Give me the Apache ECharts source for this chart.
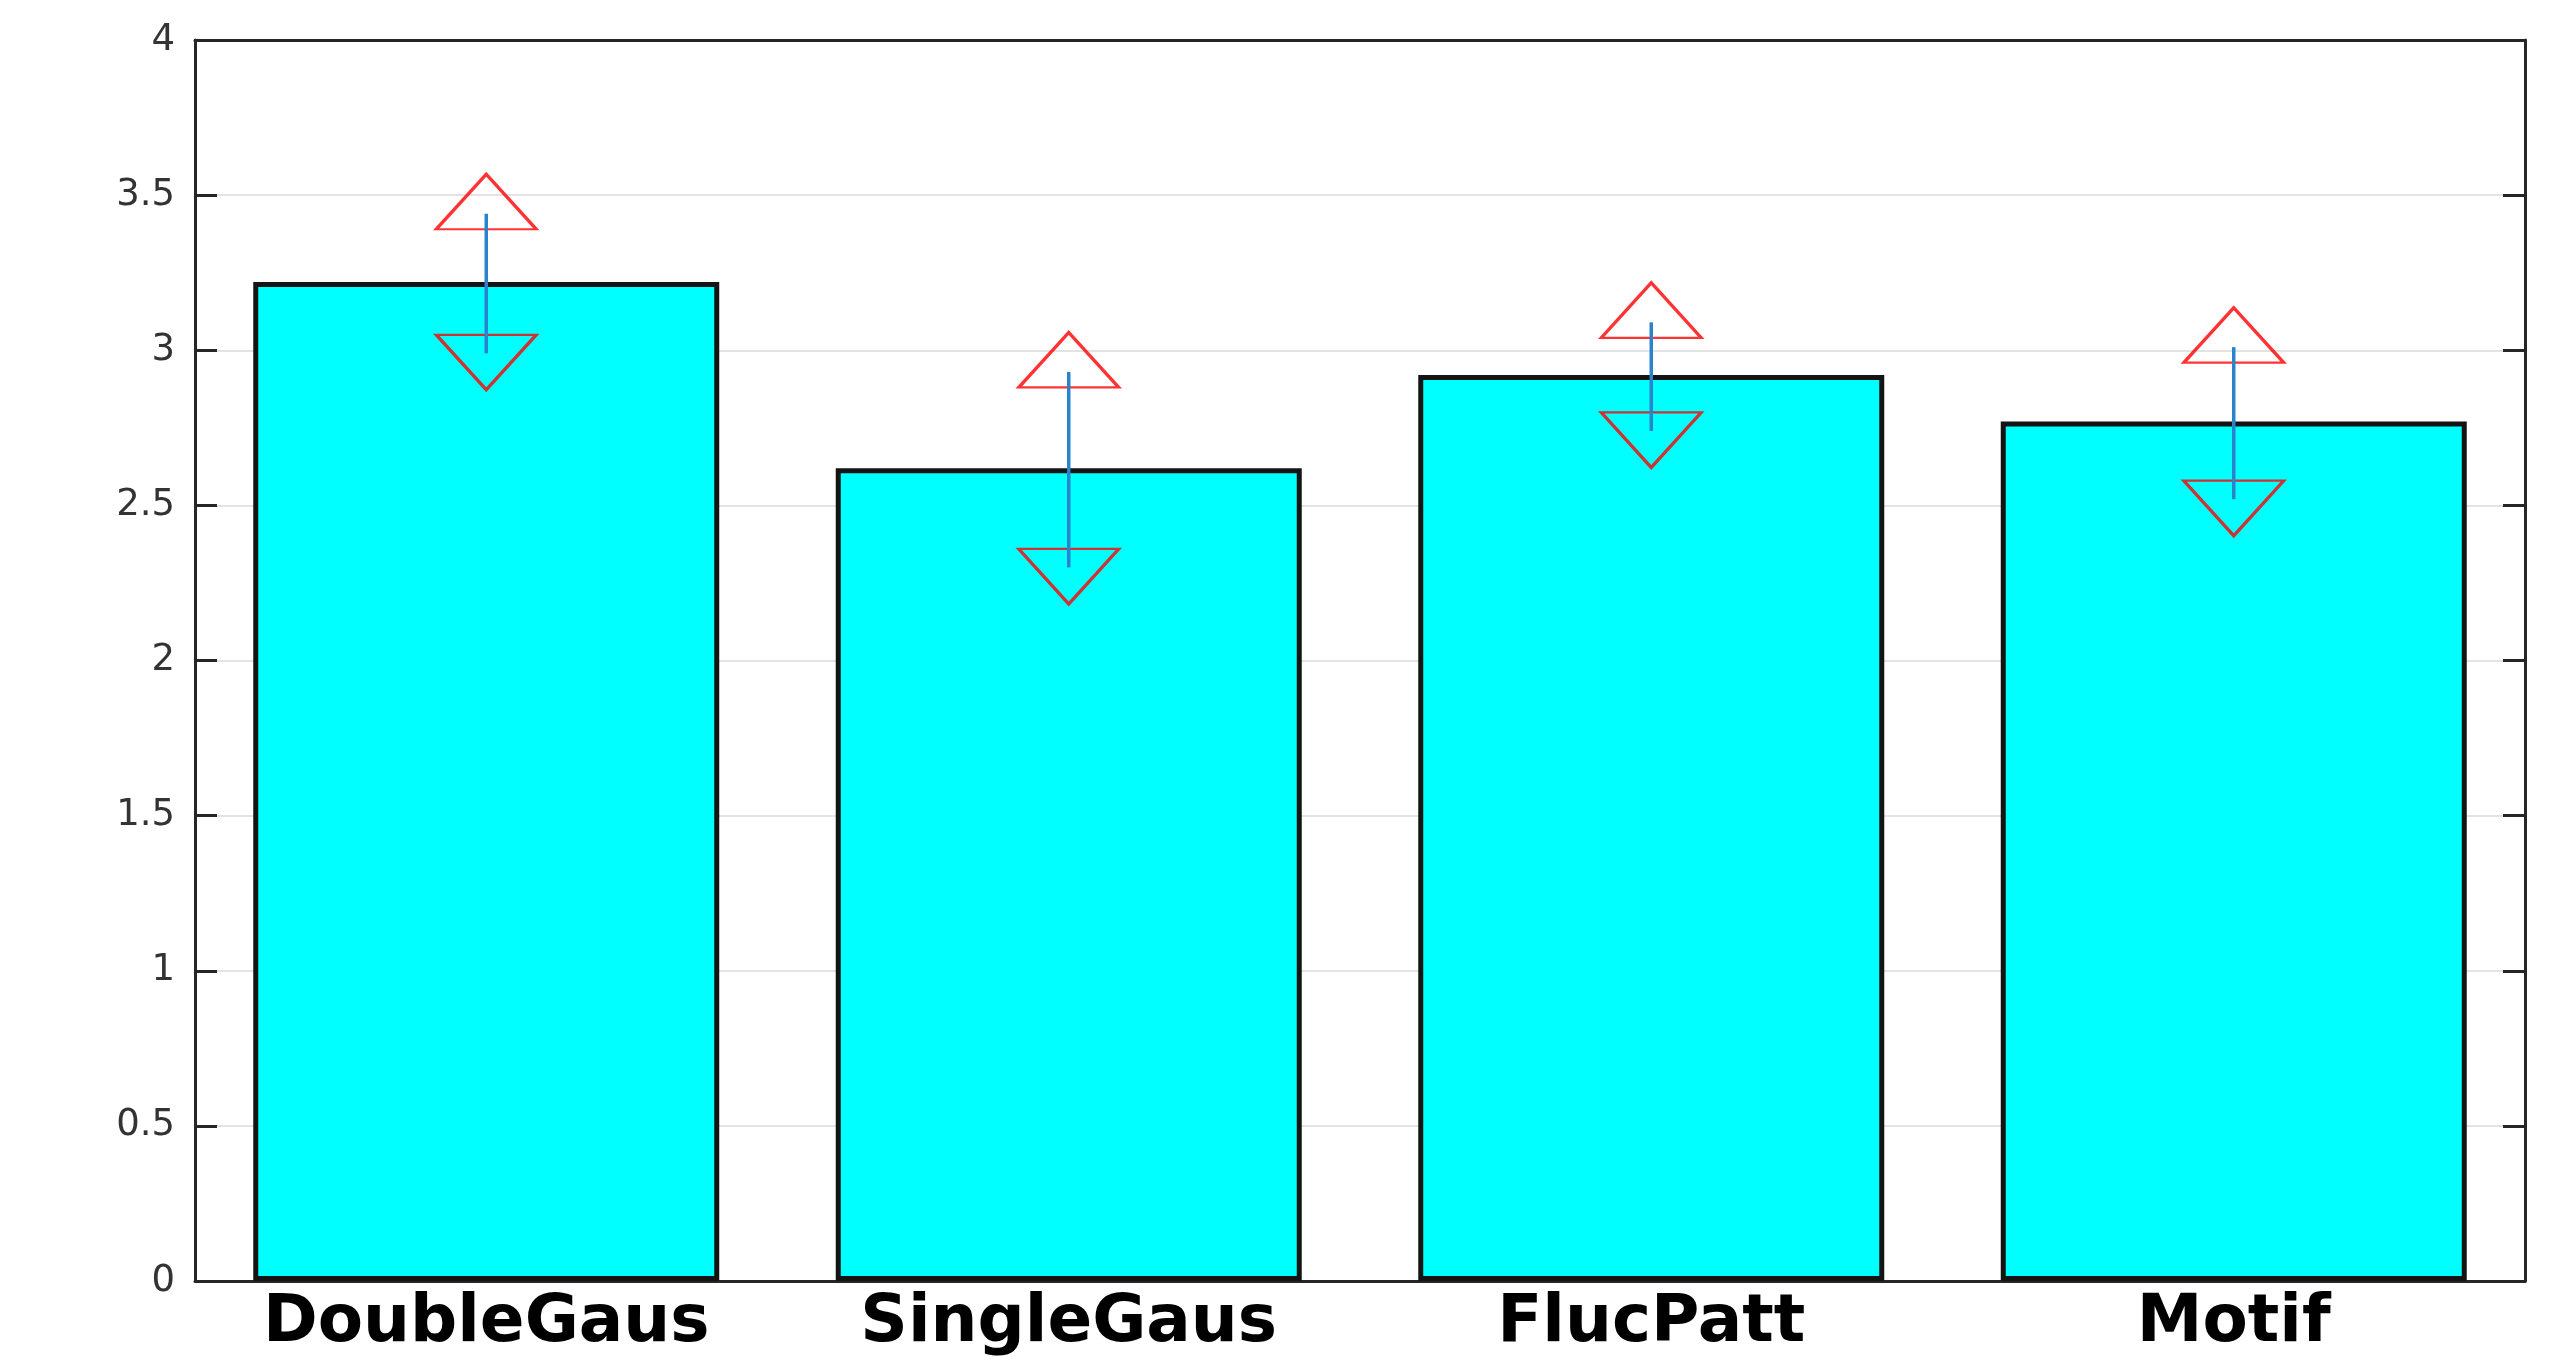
<!DOCTYPE html>
<html lang="en">
<head>
    <meta charset="UTF-8">
    <title>Bar chart with error bars</title>
    <style>
        html, body { margin: 0; padding: 0; background: #fff; }
    </style>
</head>
<body>

<div id="main" style="width: 2564px;height:1357px;"></div>

<script src="https://cdn.jsdelivr.net/npm/echarts@6/dist/echarts.min.js"></script>
<script type="text/javascript">
    // data
    var categories = ['DoubleGaus', 'SingleGaus', 'FlucPatt', 'Motif'];
    var means = [3.22, 2.62, 2.92, 2.77];
    var upper = [3.44, 2.93, 3.09, 3.01];
    var lower = [2.99, 2.30, 2.74, 2.52];

    var axisColor = '#262626';

    var upPoints = categories.map(function (c, i) { return [c, upper[i]]; });
    var downPoints = categories.map(function (c, i) { return [c, lower[i]]; });
    var errData = categories.map(function (c, i) { return [i, lower[i], upper[i]]; });

    var myChart = echarts.init(document.getElementById('main'));

    var option = {
        backgroundColor: '#fff',
        animation: false,
        grid: {
            left: 195, right: 39, top: 40, bottom: 74
        },
        xAxis: [{
            type: 'category',
            data: categories,
            axisLine: { show: true, onZero: false, lineStyle: { color: axisColor, width: 3 } },
            axisTick: { show: false },
            axisLabel: {
                interval: 0,
                color: '#000',
                fontFamily: 'DejaVu Sans',
                fontWeight: 'bold',
                fontSize: 66,
                margin: 10
            }
        }, {
            // top edge of the box
            type: 'category',
            position: 'top',
            data: categories,
            axisLine: { show: true, onZero: false, lineStyle: { color: axisColor, width: 3 } },
            axisTick: { show: false },
            axisLabel: { show: false }
        }],
        yAxis: [{
            type: 'value',
            min: 0, max: 4, interval: 0.5,
            axisLine: { show: true, lineStyle: { color: axisColor, width: 3 } },
            axisTick: { show: true, inside: true, length: 22, lineStyle: { color: axisColor, width: 3 } },
            axisLabel: { color: '#333', fontFamily: 'DejaVu Sans', fontSize: 37, margin: 20 },
            splitLine: { show: true, showMinLine: false, showMaxLine: false, lineStyle: { color: '#e3e3e3', width: 2 } }
        }, {
            type: 'value',
            position: 'right',
            min: 0, max: 4, interval: 0.5,
            axisLine: { show: true, lineStyle: { color: axisColor, width: 3 } },
            axisTick: { show: true, inside: true, length: 22, lineStyle: { color: axisColor, width: 3 } },
            axisLabel: { show: false },
            splitLine: { show: false }
        }],
        series: [
            {
                type: 'bar',
                data: means,
                barCategoryGap: '20%',
                itemStyle: { color: '#00ffff', borderColor: '#141414', borderWidth: 5 },
                z: 2
            },
            {
                type: 'scatter',
                data: upPoints,
                symbol: 'triangle',
                symbolSize: [100, 55],
                symbolOffset: [0, -12],
                itemStyle: { color: 'transparent', borderColor: '#ff0000', borderWidth: 3 },
                z: 3
            },
            {
                type: 'scatter',
                data: downPoints,
                symbol: 'triangle',
                symbolRotate: 180,
                symbolSize: [100, 55],
                symbolOffset: [0, 9],
                itemStyle: { color: 'transparent', borderColor: '#ff0000', borderWidth: 3 },
                z: 3
            },
            {
                type: 'custom',
                data: errData,
                z: 4,
                renderItem: function (params, api) {
                    var lo = api.coord([api.value(0), api.value(1)]);
                    var hi = api.coord([api.value(0), api.value(2)]);
                    return {
                        type: 'line',
                        shape: { x1: lo[0], y1: lo[1], x2: hi[0], y2: hi[1] },
                        style: { stroke: '#2a84cc', lineWidth: 3.5 }
                    };
                }
            }
        ]
    };

    myChart.setOption(option);
</script>
</body>
</html>
